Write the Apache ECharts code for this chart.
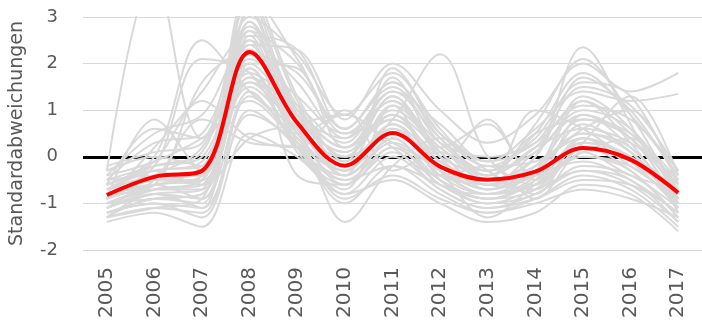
<!DOCTYPE html>
<html>
<head>
<meta charset="utf-8">
<script src="https://cdn.jsdelivr.net/npm/echarts@6/dist/echarts.min.js"></script>
<style>
  html, body { margin: 0; padding: 0; background: #fff; }
  #chart { width: 702px; height: 326px; }
</style>
</head>
<body>
<div id="chart"></div>
<script>
const years = ['2005', '2006', '2007', '2008', '2009', '2010', '2011', '2012', '2013', '2014', '2015', '2016', '2017'];
const yTicks = { min: -2, max: 3, interval: 1 };
const zeroLevel = 0;

// mittelwert (rot)
const meanLine = [-0.82, -0.43, -0.3, 2.25, 0.73, -0.19, 0.51, -0.21, -0.49, -0.32, 0.19, -0.06, -0.77];

// einzelne reihen (grau)
const grayLines = [
  [-0.3, 3.9, 0.4, 1.6, 0.9, 0.2, 0.8, 0.0, -0.4, 0.2, 0.6, 0.3, -0.5],
  [-0.6, 0.0, 2.5, 1.4, 0.6, -0.3, 0.5, -0.2, -0.6, -0.4, 0.3, 0.0, -0.9],
  [-0.8, -0.2, 2.1, 1.8, 0.2, -0.4, 0.3, -0.3, -0.7, -0.2, 0.5, 0.1, -1.0],
  [-0.9, 0.2, 1.4, 2.6, 2.3, 0.6, 1.5, 0.3, -0.3, 0.5, 1.8, 0.9, -0.4],
  [-1.1, -0.6, -0.5, 3.4, 1.2, -0.2, 1.1, 0.2, -0.5, 0.0, 2.35, 0.7, -1.2],
  [-1.3, -0.9, -1.0, 3.2, 0.9, 0.1, 0.9, -0.3, -0.8, -0.4, 1.2, 0.3, -1.1],
  [-0.7, -0.3, -0.2, 3.0, 2.2, 0.9, 1.8, 0.5, -0.2, 0.4, 1.6, 1.3, -0.6],
  [-0.5, 0.3, 0.5, 2.8, 0.6, -0.6, 0.4, -0.5, -0.9, -0.5, 0.2, -0.3, -1.3],
  [-1.0, -0.5, 0.8, 0.3, 0.2, -1.4, -0.2, 0.4, -0.3, -0.8, 0.4, -0.2, -0.9],
  [-1.2, -1.0, -1.3, 1.0, 0.2, -1.0, -0.2, -0.6, -1.0, -0.7, -0.3, -0.5, -1.4],
  [-0.4, 0.5, 0.9, 2.4, 2.3, 0.8, 2.0, 1.0, 0.3, 0.9, 2.0, 1.4, 1.8],
  [-0.9, -0.4, 0.2, 2.2, 1.8, 0.6, 1.6, 0.5, -0.1, 0.6, 1.4, 1.2, 1.35],
  [-1.4, -1.2, -1.5, 0.5, 0.0, -0.8, -0.5, -1.0, -1.4, -1.2, -0.6, -0.8, -1.6],
  [-1.3, -1.1, -1.2, 1.3, 0.4, -0.5, -0.2, -0.8, -1.2, -0.9, -0.4, -0.7, -1.5],
  [-0.8, -0.5, -0.6, 2.0, 0.9, 0.0, 1.3, 0.1, -0.6, -0.2, 0.8, 0.4, -0.8],
  [-0.6, -0.3, -0.1, 1.8, 1.1, 0.3, 1.4, 0.4, -0.3, 0.1, 1.0, 0.6, -0.7],
  [-1.0, -0.7, -0.7, 2.6, 0.5, -0.3, 0.7, -0.4, -0.8, -0.6, 0.0, -0.2, -1.0],
  [-1.1, -0.8, -0.9, 2.9, 0.3, -0.5, 0.2, -0.6, -1.0, -0.8, -0.2, -0.4, -1.1],
  [-0.2, 0.1, 0.3, 3.3, 1.0, 0.4, 1.2, 0.3, 0.0, 0.3, 1.1, 0.8, -0.3],
  [-0.5, -0.2, 0.0, 2.0, 1.9, 0.2, 0.9, -0.1, -0.5, 0.0, 1.7, 1.0, -0.5],
  [-0.9, -0.6, -0.4, 1.5, 0.4, -0.8, 0.0, -0.7, -1.1, -0.9, -0.5, -0.6, -1.2],
  [-1.2, -0.9, -0.8, 1.7, 0.7, -0.2, 0.6, -0.2, -0.7, -0.3, 0.5, 0.2, -1.0],
  [-0.7, -0.4, -0.3, 2.4, 0.8, 0.1, 1.0, 0.2, -0.4, 0.2, 1.2, 0.5, -0.6],
  [-0.4, -0.1, 0.4, 1.2, 0.5, 0.9, 0.3, -0.1, 0.8, -0.4, 0.1, 0.4, -0.8],
  [-1.3, -0.8, -1.1, 3.6, 1.3, -0.1, 1.7, 0.0, -0.6, 0.1, 0.9, 0.2, -0.9],
  [-0.6, -0.1, 1.2, 0.4, 0.2, 1.0, -0.3, 0.1, -0.5, 1.0, 0.6, -0.1, -0.8],
  [-0.8, -0.6, 1.6, 2.3, -0.4, -0.6, 0.2, -0.5, -0.9, -0.7, 0.3, 1.3, -0.4],
  [-1.0, -0.7, -0.6, 2.1, 1.3, 0.5, 0.8, -0.3, -1.3, -0.6, 0.0, -0.3, -1.3],
  [-0.3, 0.0, -0.2, 2.7, 0.7, -0.4, 1.9, 0.6, -0.2, -0.1, 0.4, 0.0, -0.7],
  [-0.9, -0.5, -0.5, 1.9, 0.1, -0.7, 1.1, -0.5, -0.9, -0.5, 0.7, 0.1, -1.1],
  [-1.1, -0.8, -0.7, 3.1, 0.8, -0.1, 0.6, -0.4, -0.6, -0.7, 0.2, -0.1, -0.8],
  [-0.7, -0.2, 0.1, 2.5, 1.6, 0.4, 1.4, 0.7, -0.1, 0.3, 1.5, 1.1, -0.3],
  [-1.2, -1.0, -1.1, 0.9, 0.3, -0.9, -0.4, -0.9, -1.2, -1.0, -0.7, -0.9, -1.3],
  [-0.5, -0.4, -0.4, 2.2, 1.0, 0.2, 1.3, 0.0, -0.3, 0.5, 0.8, 0.5, -0.5],
  [-1.0, -0.9, -0.8, 1.6, 0.6, -0.4, 0.4, -0.6, -0.8, -0.4, -0.1, -0.5, -1.2],
  [-0.8, -0.6, -0.4, 3.5, 2.1, 0.6, 1.6, 0.4, -0.4, 0.7, 2.1, 0.9, -0.9],
  [-0.6, 0.6, 0.4, 1.7, 0.9, -0.2, 0.7, -0.1, -0.5, -0.2, 0.6, 1.0, -0.6],
  [-1.3, -1.1, -0.9, 2.5, 0.2, -0.6, 0.1, -0.7, -1.1, -0.8, -0.3, -0.6, -1.4],
  [-0.9, 0.8, -0.3, 2.9, 1.1, 0.0, 0.9, 0.1, -0.7, -0.3, 1.3, 0.6, -0.9],
  [-0.6, -0.3, -0.6, 0.4, 0.7, 0.9, 0.2, -0.4, -0.2, -0.9, 0.1, -0.4, -0.7],
  [-0.7, -0.5, -0.3, 1.9, 0.5, 0.0, 0.8, 2.2, 0.0, -0.6, 0.3, 0.0, -1.0],
  [-1.1, -0.7, -0.5, 2.7, 2.0, 0.5, 1.2, 0.2, 0.7, -0.5, 0.9, 0.4, -1.0],
  [-0.8, -0.6, -0.9, 1.4, 0.3, -0.3, 0.5, -0.3, -0.8, -0.6, 0.4, -0.1, -1.1]
];

const chart = echarts.init(document.getElementById('chart'));

const series = [
  {
    type: 'line',
    data: [],
    markLine: {
      z: 1,
      silent: true,
      symbol: 'none',
      label: { show: false },
      lineStyle: { color: '#000', width: 3, type: 'solid' },
      data: [{ yAxis: zeroLevel }]
    }
  }
];

grayLines.forEach(vals => {
  series.push({
    type: 'line',
    data: vals,
    smooth: 0.35,
    symbol: 'none',
    z: 2,
    lineStyle: { color: '#d9d9d9', width: 2 }
  });
});

series.push({
  type: 'line',
  data: meanLine,
  smooth: 0.35,
  symbol: 'none',
  z: 3,
  lineStyle: { color: '#ff0000', width: 4 }
});

chart.setOption({
  animation: false,
  grid: { left: 82, right: -9, top: 17, bottom: 76 },
  xAxis: {
    type: 'category',
    data: years,
    boundaryGap: true,
    axisLine: { show: false },
    axisTick: { show: false },
    axisLabel: {
      rotate: 90,
      margin: 17,
      color: '#595959',
      fontSize: 20,
      fontFamily: 'DejaVu Sans'
    }
  },
  yAxis: {
    type: 'value',
    min: yTicks.min,
    max: yTicks.max,
    interval: yTicks.interval,
    name: 'Standardabweichungen',
    nameLocation: 'middle',
    nameGap: 56,
    nameTextStyle: { color: '#595959', fontSize: 19, fontFamily: 'DejaVu Sans' },
    axisLine: { show: false },
    axisTick: { show: false },
    splitLine: { lineStyle: { color: '#d9d9d9', width: 1 } },
    axisLabel: {
      margin: 25,
      color: '#595959',
      fontSize: 18,
      fontFamily: 'DejaVu Sans'
    }
  },
  series: series
});
</script>
</body>
</html>
